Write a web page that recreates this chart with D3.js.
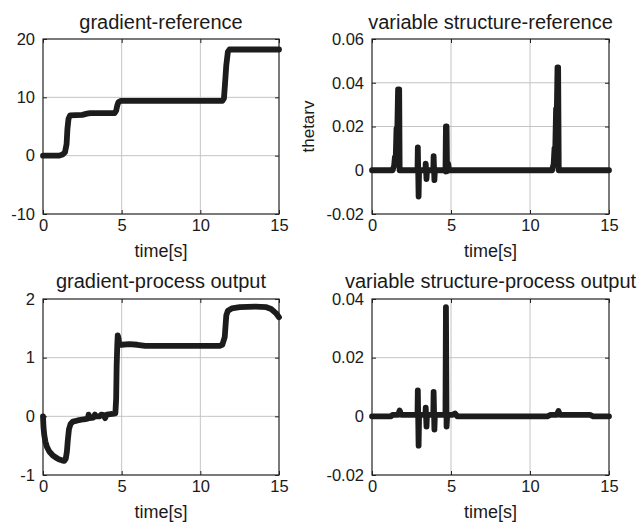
<!DOCTYPE html>
<html>
<head>
<meta charset="utf-8">
<script src="https://cdn.jsdelivr.net/npm/d3@7"></script>
<style>
  html, body { margin: 0; padding: 0; background: #fff; }
  svg { display: block; }
  text { font-family: "Liberation Sans", Arial, Helvetica, sans-serif; fill: #1a1a1a; }
</style>
</head>
<body>
<svg id="chart" width="639" height="526"></svg>
<script>
// ---------- data ----------
const xTicks = [0, 5, 10, 15];

const gradRefTicks = [-10, 0, 10, 20];
const gradRefT = [0, 1.0, 1.25, 1.4, 1.5, 1.55, 1.62, 1.72, 2.5, 2.8, 3.0, 4.55, 4.65, 4.72, 4.8, 4.95, 11.4, 11.5, 11.56, 11.65, 11.75, 11.85, 15];
const gradRefV = [0, 0, 0.2, 0.6, 2.0, 4.5, 6.3, 6.9, 7.0, 7.2, 7.3, 7.3, 7.7, 8.6, 9.2, 9.4, 9.4, 9.8, 12.0, 15.5, 17.8, 18.2, 18.2];

const vsRefTicks = [-0.02, 0, 0.02, 0.04, 0.06];
const vsRefT = [0, 1.3, 1.4, 1.45, 1.5, 1.55, 1.6, 1.65, 1.72, 1.75, 1.8, 2.88, 2.9, 2.95, 2.98, 3.38, 3.4, 3.45, 3.48, 3.88, 3.9, 3.95, 3.98, 4.6, 4.65, 4.68, 4.72, 4.75, 4.82, 4.88, 11.4, 11.5, 11.55, 11.6, 11.65, 11.7, 11.74, 11.78, 11.82, 15];
const vsRefV = [0, 0, 0.002, 0.006, 0.005, 0.019, 0.018, 0.037, 0.037, 0, 0, 0, 0.0105, -0.012, 0, 0, 0.003, -0.004, 0, 0, 0.0065, -0.0045, 0, 0, -0.0005, 0.02, 0.02, -0.0005, 0.003, 0, 0, 0.003, 0.01, 0.01, 0.028, 0.028, 0.047, 0.047, 0, 0];

const gpoTicks = [-1, 0, 1, 2];
const gpoT = [0, 0.03, 0.08, 0.15, 0.25, 0.4, 0.6, 0.8, 1.0, 1.2, 1.35, 1.45, 1.52, 1.58, 1.65, 1.75, 1.9, 2.2, 2.6, 2.85, 2.9, 2.95, 3.2, 3.3, 3.4, 3.6, 3.7, 3.85, 3.95, 4.05, 4.4, 4.6, 4.65, 4.68, 4.72, 4.75, 4.8, 4.85, 5.0, 5.5, 6.0, 6.5, 11.2, 11.4, 11.55, 11.65, 11.75, 12.0, 12.5, 13.5, 14.2, 14.5, 14.8, 15];
const gpoV = [0, -0.18, -0.32, -0.43, -0.52, -0.6, -0.66, -0.7, -0.73, -0.75, -0.76, -0.72, -0.6, -0.4, -0.22, -0.13, -0.09, -0.07, -0.05, -0.04, 0.03, -0.03, -0.02, 0.03, 0.0, 0.0, 0.03, 0.02, -0.03, 0.03, 0.04, 0.05, 0.3, 0.85, 1.2, 1.38, 1.33, 1.22, 1.22, 1.23, 1.22, 1.2, 1.2, 1.22, 1.35, 1.72, 1.8, 1.84, 1.86, 1.87, 1.86, 1.83, 1.76, 1.69];

const vspoTicks = [-0.02, 0, 0.02, 0.04];
const vspoT = [0, 1.2, 1.3, 1.65, 1.75, 1.85, 2.88, 2.9, 2.95, 2.98, 3.38, 3.4, 3.45, 3.48, 3.88, 3.9, 3.95, 3.98, 4.65, 4.68, 4.72, 4.76, 5.1, 5.25, 5.4, 11.1, 11.3, 11.7, 11.8, 11.9, 13.8, 14.0, 15];
const vspoV = [0, 0, 0.0005, 0.0005, 0.002, 0.0005, 0.0005, 0.0088, -0.010, 0.0005, 0.0005, 0.003, -0.0035, 0.0005, 0.0005, 0.0083, -0.0045, 0.0005, 0.0005, 0.0372, -0.0035, 0.0005, 0.0005, 0.001, 0, 0, 0.0005, 0.0005, 0.0018, 0.0005, 0.0005, 0, 0];

const titles = ["gradient-reference", "variable structure-reference", "gradient-process output", "variable structure-process output"];
const xLabel = "time[s]";
const yLabelTopRight = "thetarv";

// ---------- layout ----------
const panels = [
  { x0: 43, x1: 279, y0: 39, y1: 214, t: gradRefT, v: gradRefV, yt: gradRefTicks, title: titles[0], tOff: 10 },
  { x0: 372, x1: 609, y0: 39, y1: 214, t: vsRefT, v: vsRefV, yt: vsRefTicks, title: titles[1], ylab: yLabelTopRight, tOff: 10 },
  { x0: 43, x1: 279, y0: 299, y1: 475, t: gpoT, v: gpoV, yt: gpoTicks, title: titles[2], tOff: 11 },
  { x0: 372, x1: 609, y0: 299, y1: 475, t: vspoT, v: vspoV, yt: vspoTicks, title: titles[3], tOff: 11.5 }
];

const svg = d3.select("#chart");
svg.append("rect").attr("width", 639).attr("height", 526).attr("fill", "#fff");

panels.forEach(p => {
  const x = d3.scaleLinear().domain([0, 15]).range([p.x0, p.x1]);
  const y = d3.scaleLinear().domain([p.yt[0], p.yt[p.yt.length - 1]]).range([p.y1, p.y0]);
  const g = svg.append("g");

  // grid
  g.append("g").selectAll("line.gx").data(xTicks.slice(1, -1)).join("line")
    .attr("x1", d => x(d)).attr("x2", d => x(d)).attr("y1", p.y0).attr("y2", p.y1)
    .attr("stroke", "#c4c4c4").attr("stroke-width", 1);
  g.append("g").selectAll("line.gy").data(p.yt.slice(1, -1)).join("line")
    .attr("y1", d => y(d)).attr("y2", d => y(d)).attr("x1", p.x0).attr("x2", p.x1)
    .attr("stroke", "#c4c4c4").attr("stroke-width", 1);

  // axes
  const fmt = d => String(d);
  const ax = g.append("g").attr("transform", `translate(0,${p.y1})`)
    .call(d3.axisBottom(x).tickValues(xTicks).tickFormat(fmt).tickSizeInner(-4).tickSizeOuter(0).tickPadding(5));
  const axT = g.append("g").attr("transform", `translate(0,${p.y0})`)
    .call(d3.axisTop(x).tickValues(xTicks).tickFormat("").tickSizeInner(-4).tickSizeOuter(0));
  const ay = g.append("g").attr("transform", `translate(${p.x0},0)`)
    .call(d3.axisLeft(y).tickValues(p.yt).tickFormat(fmt).tickSizeInner(-4).tickSizeOuter(0).tickPadding(8));
  const ayR = g.append("g").attr("transform", `translate(${p.x1},0)`)
    .call(d3.axisRight(y).tickValues(p.yt).tickFormat("").tickSizeInner(-4).tickSizeOuter(0));
  [ax, axT, ay, ayR].forEach(a => {
    a.select(".domain").remove();
    a.selectAll(".tick line").attr("stroke", "#222");
    a.selectAll(".tick text").attr("font-size", 16.5).attr("fill", "#1a1a1a")
      .attr("font-family", "'Liberation Sans', Arial, sans-serif");
  });

  // box
  g.append("rect").attr("x", p.x0).attr("y", p.y0)
    .attr("width", p.x1 - p.x0).attr("height", p.y1 - p.y0)
    .attr("fill", "none").attr("stroke", "#222").attr("stroke-width", 1.2);

  // line
  const pts = p.t.map((t, i) => [t, p.v[i]]);
  g.append("path").datum(pts)
    .attr("d", d3.line().x(d => x(d[0])).y(d => y(d[1])))
    .attr("fill", "none").attr("stroke", "#1c1c1c").attr("stroke-width", 5.8)
    .attr("stroke-linejoin", "round").attr("stroke-linecap", "round");

  // title
  g.append("text").attr("x", (p.x0 + p.x1) / 2).attr("y", p.y0 - p.tOff)
    .attr("text-anchor", "middle").attr("font-size", 20).text(p.title);

  // x label
  g.append("text").attr("x", (p.x0 + p.x1) / 2).attr("y", p.y1 + 43)
    .attr("text-anchor", "middle").attr("font-size", 18).text(xLabel);

  if (p.ylab) {
    g.append("text")
      .attr("transform", `translate(${p.x0 - 58},${(p.y0 + p.y1) / 2}) rotate(-90)`)
      .attr("text-anchor", "middle").attr("font-size", 17).text(p.ylab);
  }
});
</script>
</body>
</html>
